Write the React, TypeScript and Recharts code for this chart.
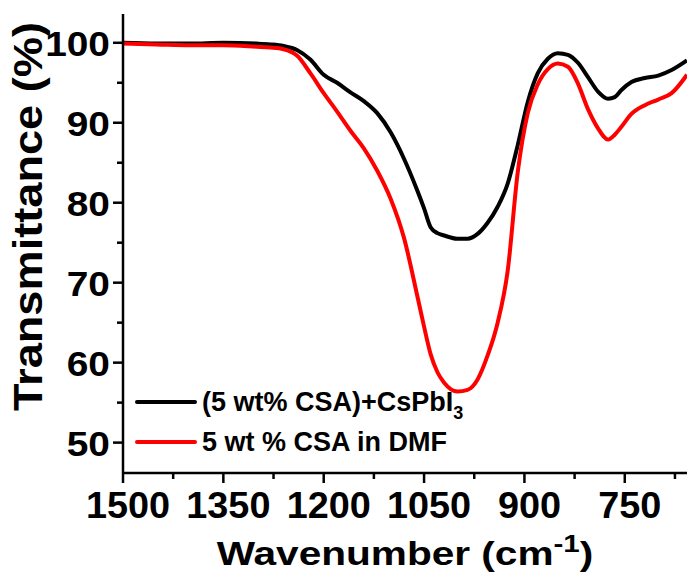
import { Label, Legend, Line, LineChart, XAxis, YAxis } from "recharts";

const wavenumbers = [
  1500, 1450, 1400, 1350, 1300, 1280, 1260, 1240, 1220, 1200, 1180, 1160, 1140, 1120, 1100, 1080, 1060, 1050,
  1040, 1030, 1020, 1000, 985, 970, 955, 940, 925, 910, 895, 880, 865, 850, 835, 820, 805, 790, 775, 765, 755,
  740, 720, 700, 680, 657,
];
const csaCsPbI3 = [
  100.0, 99.9, 99.9, 100.0, 99.9, 99.8, 99.6, 99.1, 97.9, 96.0, 95.0, 93.8, 92.7, 91.2, 88.8, 85.5, 81.5, 79.3,
  76.9, 76.2, 75.9, 75.5, 75.5, 76.1, 77.5, 79.5, 82.4, 87.2, 92.6, 96.2, 98.0, 98.7, 98.5, 97.5, 95.7, 93.9,
  93.0, 93.2, 94.1, 95.1, 95.6, 95.9, 96.6, 97.8,
];
const csaDmf = [
  99.9, 99.8, 99.7, 99.7, 99.5, 99.4, 99.2, 98.4, 96.2, 93.7, 91.4, 89.0, 86.8, 84.0, 80.5, 75.6, 68.3, 64.5,
  61.0, 58.8, 57.5, 56.4, 56.6, 57.9, 60.9, 65.0, 71.5, 83.8, 91.2, 94.8, 96.7, 97.4, 97.0, 94.9, 91.7, 89.3,
  87.9, 88.5, 89.5, 91.1, 92.2, 92.9, 93.7, 96.0,
];

const xTicks = [1500, 1425, 1350, 1275, 1200, 1125, 1050, 975, 900, 825, 750, 675];
const xLabels = [1500, 1350, 1200, 1050, 900, 750];
const yTicks = [50, 55, 60, 65, 70, 75, 80, 85, 90, 95, 100];
const yLabels = [50, 60, 70, 80, 90, 100];

const legendItems = [
  { name: "(5 wt% CSA)+CsPbI", sub: "3", color: "#000000" },
  { name: "5 wt % CSA in DMF", sub: "", color: "#ff0000" },
];

const data = wavenumbers.map((w, i) => ({ w, black: csaCsPbI3[i], red: csaDmf[i] }));

const font = '"Liberation Sans", Arial, sans-serif';

function XTick(props: any) {
  const { x, y, payload } = props;
  const major = xLabels.includes(payload.value);
  return (
    <g>
      <line x1={x} x2={x} y1={y} y2={y + (major ? 10 : 6)} stroke="#000" strokeWidth={2.5} />
      {major && (
        <g transform={`translate(${x + 5}, ${y + 45}) scale(1.05, 1)`}>
          <text textAnchor="middle" fontFamily={font} fontWeight={700} fontSize={36} fill="#000">
            {payload.value}
          </text>
        </g>
      )}
    </g>
  );
}

function YTick(props: any) {
  const { x, y, payload } = props;
  const major = yLabels.includes(payload.value);
  return (
    <g>
      <line x1={x} x2={x - (major ? 10 : 6)} y1={y} y2={y} stroke="#000" strokeWidth={2.5} />
      {major && (
        <g transform={`translate(${x - 13}, ${y + 13}) scale(1.08, 1)`}>
          <text textAnchor="end" fontFamily={font} fontWeight={700} fontSize={36} fill="#000">
            {payload.value}
          </text>
        </g>
      )}
    </g>
  );
}

function XTitle(props: any) {
  const { x, y, width } = props.viewBox;
  return (
    <g transform={`translate(${x + width / 2}, ${y + 92}) scale(1.23, 1)`}>
      <text textAnchor="middle" fontFamily={font} fontWeight={700} fontSize={33} fill="#000">
        Wavenumber (cm
        <tspan fontSize={24} dy={-13}>-1</tspan>
        <tspan dy={13}>)</tspan>
      </text>
    </g>
  );
}

function YTitle(props: any) {
  const { x, y, height } = props.viewBox;
  return (
    <g transform={`translate(${x + 42}, ${y + height / 2 - 27}) rotate(-90) scale(1.13, 1)`}>
      <text textAnchor="middle" fontFamily={font} fontWeight={700} fontSize={40} fill="#000">
        Transmittance (%)
      </text>
    </g>
  );
}

function LegendBox() {
  return (
    <div style={{ fontFamily: font, fontWeight: 700, fontSize: 27, color: "#000" }}>
      {legendItems.map((item) => (
        <div key={item.name} style={{ display: "flex", alignItems: "center", height: 40, lineHeight: 1 }}>
          <span style={{ display: "inline-block", width: 62, height: 4.5, borderRadius: 2, background: item.color, marginRight: 5 }} />
          <span style={{ whiteSpace: "nowrap" }}>
            {item.name}
            {item.sub && <span style={{ fontSize: 18, position: "relative", top: 8 }}>{item.sub}</span>}
          </span>
        </div>
      ))}
    </div>
  );
}

export default function App() {
  return (
    <div style={{ position: "fixed", left: 0, top: 0, width: 687, height: 577, overflow: "hidden", background: "#fff" }}>
      <LineChart width={687} height={577} data={data} margin={{ top: 14, right: 0, left: 0, bottom: 0 }}>
        <XAxis
          dataKey="w"
          type="number"
          domain={[657, 1500]}
          reversed
          allowDataOverflow
          ticks={xTicks}
          interval={0}
          tick={XTick}
          tickLine={false}
          tickSize={0}
          tickMargin={0}
          height={104}
          axisLine={{ stroke: "#000", strokeWidth: 2.5 }}
        >
          <Label content={XTitle} />
        </XAxis>
        <XAxis
          xAxisId="top"
          orientation="top"
          dataKey="w"
          type="number"
          domain={[657, 1500]}
          reversed
          allowDataOverflow
          tick={false}
          tickLine={false}
          height={0}
          axisLine={{ stroke: "#000", strokeWidth: 2.5 }}
        />
        <YAxis
          type="number"
          domain={[46.2, 103.6]}
          allowDataOverflow
          ticks={yTicks}
          interval={0}
          tick={YTick}
          tickLine={false}
          tickSize={0}
          tickMargin={0}
          width={123}
          axisLine={{ stroke: "#000", strokeWidth: 2.5 }}
        >
          <Label content={YTitle} />
        </YAxis>
        <Legend
          layout="horizontal"
          verticalAlign="middle"
          align="center"
          content={LegendBox}
          wrapperStyle={{ left: 135, top: 382, width: 400, height: 80 }}
        />
        <Line
          type="monotone"
          dataKey="black"
          stroke="#000000"
          strokeWidth={4}
          dot={false}
          isAnimationActive={false}
        />
        <Line
          type="monotone"
          dataKey="red"
          stroke="#ff0000"
          strokeWidth={4}
          dot={false}
          isAnimationActive={false}
        />
      </LineChart>
    </div>
  );
}
